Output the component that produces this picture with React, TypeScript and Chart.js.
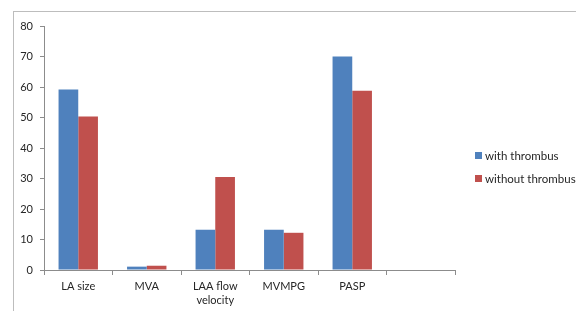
import React, { useEffect, useRef } from "react";
import { Chart, registerables } from "chart.js";

Chart.register(...registerables);

const categories: (string | string[])[] = ["LA size", "MVA", ["LAA flow", "velocity"], "MVMPG", "PASP", ""];
const withThrombus: (number | null)[] = [59.2, 1.1, 13.2, 13.2, 70.0, null];
const withoutThrombus: (number | null)[] = [50.3, 1.4, 30.5, 12.2, 58.8, null];
const seriesNames = ["with thrombus", "without thrombus"];
const seriesColors = ["#4F81BD", "#C0504D"];
const yTicksMax = 80;
const yStep = 10;

const FONT = "Lato, 'Open Sans', sans-serif";
const TEXT = "#262626";
const AXIS = "#8c8c8c";

export default function App() {
  const ref = useRef<HTMLCanvasElement | null>(null);

  useEffect(() => {
    if (!ref.current) return;
    const chart = new Chart(ref.current, {
      type: "bar",
      data: {
        labels: categories,
        datasets: [
          {
            label: seriesNames[0],
            data: withThrombus,
            backgroundColor: seriesColors[0],
            categoryPercentage: 0.575,
            barPercentage: 1,
          },
          {
            label: seriesNames[1],
            data: withoutThrombus,
            backgroundColor: seriesColors[1],
            categoryPercentage: 0.575,
            barPercentage: 1,
          },
        ],
      },
      options: {
        responsive: false,
        animation: false,
        events: [],
        layout: { padding: { left: 0, right: 121, top: 26, bottom: 0 } },
        plugins: {
          legend: { display: false },
          tooltip: { enabled: false },
        },
        scales: {
          x: {
            grid: {
              offset: true,
              drawOnChartArea: false,
              drawTicks: true,
              tickLength: 5,
              color: AXIS,
            },
            border: { display: true, color: AXIS },
            ticks: {
              color: TEXT,
              padding: 4,
              maxRotation: 0,
              autoSkip: false,
              font: { family: FONT, size: 11, lineHeight: 1.3 },
            },
            afterFit: (s: any) => {
              s.height = 41;
            },
          },
          y: {
            min: 0,
            max: yTicksMax,
            grid: {
              drawOnChartArea: false,
              drawTicks: true,
              tickLength: 4,
              color: AXIS,
            },
            border: { display: true, color: AXIS },
            ticks: {
              stepSize: yStep,
              color: TEXT,
              padding: 7,
              font: { family: FONT, size: 11 },
            },
            afterFit: (s: any) => {
              s.width = 44;
            },
          },
        },
      },
    });
    return () => chart.destroy();
  }, []);

  return (
    <div style={{ position: "fixed", left: 0, top: 0, width: 576, height: 311, background: "#fff", overflow: "hidden" }}>
      <div
        style={{
          position: "absolute",
          left: 13,
          top: 11,
          width: 700,
          height: 400,
          borderLeft: "1px solid #bdbdbd",
          borderTop: "1px solid #bdbdbd",
        }}
      />
      <canvas ref={ref} width={576} height={311} style={{ position: "absolute", left: 0, top: 0 }} />
      <div
        style={{
          position: "absolute",
          left: 475,
          top: 144,
          fontFamily: FONT,
          fontSize: 11.5,
          color: TEXT,
          lineHeight: "23px",
        }}
      >
        {seriesNames.map((n, i) => (
          <div key={n} style={{ display: "flex", alignItems: "center", whiteSpace: "nowrap" }}>
            <span style={{ display: "inline-block", width: 7, height: 7, background: seriesColors[i], marginRight: 3 }} />
            <span>{n}</span>
          </div>
        ))}
      </div>
    </div>
  );
}
